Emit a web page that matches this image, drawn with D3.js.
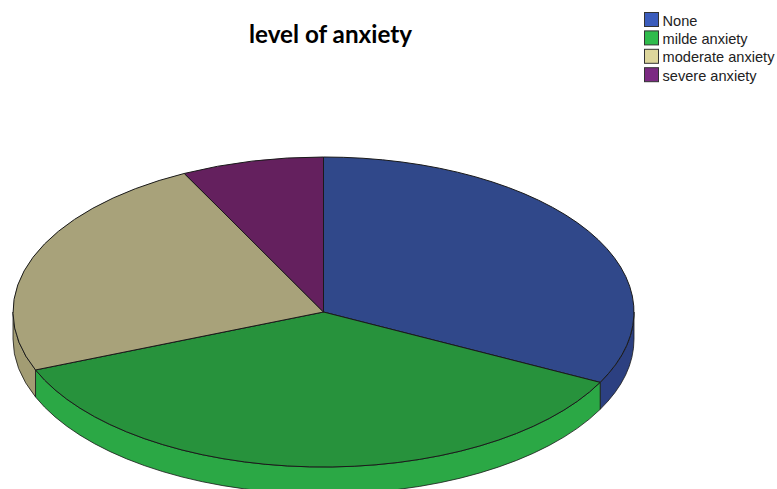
<!DOCTYPE html>
<html>
<head>
<meta charset="utf-8">
<script src="https://cdn.jsdelivr.net/npm/d3@7"></script>
<style>
  html, body { margin: 0; padding: 0; background: #fff; }
  svg { display: block; }
</style>
</head>
<body>
<svg id="chart" width="777" height="489"></svg>
<script>
// Level of anxiety, share of respondents (%)
const categories = ["None", "milde anxiety", "moderate anxiety", "severe anxiety"];
const values = [32.5, 36.4, 23.7, 7.4];
const topColors = ["#30488a", "#27923c", "#a8a27a", "#64205e"];
const sideColors = ["#2c4081", "#2ba845", "#a29c73", "#5c1d57"];
const legendColors = ["#3b5cbc", "#2fbb4c", "#ddd69c", "#7b2a82"];

const cx = 323.5, cy = 312, rx = 310.5, ry = 155, depth = 27;

const svg = d3.select("#chart");

svg.append("text")
  .attr("x", 330.5).attr("y", 43)
  .attr("text-anchor", "middle")
  .attr("font-family", "Lato, 'Open Sans', sans-serif")
  .attr("font-weight", "bold")
  .attr("font-size", 25)
  .attr("textLength", 163)
  .attr("lengthAdjust", "spacingAndGlyphs")
  .attr("fill", "#000")
  .text("level of anxiety");

const pie = d3.pie().sort(null).value(d => d)
  .startAngle(0).endAngle(2 * Math.PI);
const arcs = pie(values);

// point on the tilted ellipse for a pie angle (0 = 12 o'clock, clockwise)
const px = a => cx + rx * Math.sin(a);
const py = (a, dz) => cy - ry * Math.cos(a) + dz;

// outer wall: only the front half (angles between 90° and 270°) is visible
const wall = svg.append("g");
arcs.forEach((d, i) => {
  const a0 = Math.max(d.startAngle, Math.PI / 2);
  const a1 = Math.min(d.endAngle, 3 * Math.PI / 2);
  if (a1 <= a0) return;
  const large = (a1 - a0) > Math.PI ? 1 : 0;
  const dStr =
    `M${px(a0)},${py(a0, 0)}` +
    `A${rx},${ry} 0 ${large} 1 ${px(a1)},${py(a1, 0)}` +
    `L${px(a1)},${py(a1, depth)}` +
    `A${rx},${ry} 0 ${large} 0 ${px(a0)},${py(a0, depth)}Z`;
  wall.append("path")
    .attr("d", dStr)
    .attr("fill", sideColors[i])
    .attr("stroke", "#1a1a1a")
    .attr("stroke-width", 0.8)
    .attr("stroke-linejoin", "round");
});

// top surface: circular arcs squashed into the ellipse
const arc = d3.arc().innerRadius(0).outerRadius(rx);
const face = svg.append("g")
  .attr("transform", `translate(${cx},${cy}) scale(1,${ry / rx})`);
face.selectAll("path")
  .data(arcs)
  .join("path")
  .attr("d", arc)
  .attr("fill", (d, i) => topColors[i])
  .attr("stroke", "#1a1a1a")
  .attr("stroke-width", 1)
  .attr("vector-effect", "non-scaling-stroke")
  .attr("stroke-linejoin", "round");

// legend
const legend = svg.append("g").attr("transform", "translate(644,12)");
const rowH = 18.4;
const item = legend.selectAll("g")
  .data(categories)
  .join("g")
  .attr("transform", (d, i) => `translate(0,${i * rowH})`);
item.append("rect")
  .attr("x", 0.5).attr("y", 0.5)
  .attr("width", 14).attr("height", 14)
  .attr("fill", (d, i) => legendColors[i])
  .attr("stroke", "#333")
  .attr("stroke-width", 1);
item.append("text")
  .attr("x", 18.5).attr("y", 13.5)
  .attr("font-family", "'Liberation Sans', Arial, sans-serif")
  .attr("font-size", 14.6)
  .attr("fill", "#222")
  .text(d => d);
</script>
</body>
</html>
